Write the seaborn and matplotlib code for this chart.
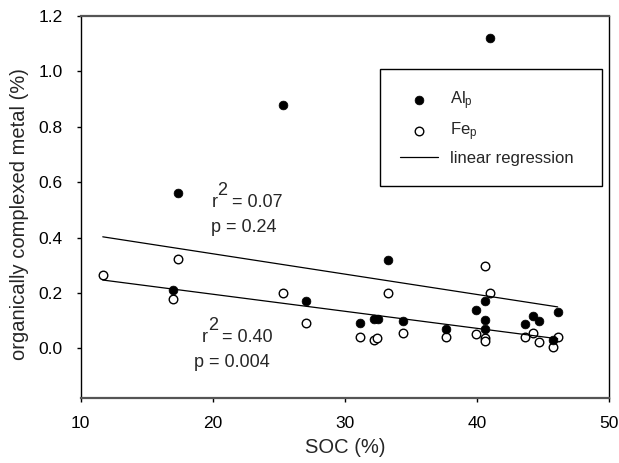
import numpy as np
import pandas as pd
import seaborn as sns
import matplotlib
matplotlib.use('Agg')
import matplotlib.pyplot as plt

# Values
soc_al = [40.98, 25.29, 17.39, 17.01, 27.02, 33.29, 31.14, 32.23, 32.48, 34.42,
          37.63, 39.92, 40.60, 40.60, 40.60, 43.63, 44.26, 44.72, 45.78, 46.11]
al_p = [1.121, 0.877, 0.560, 0.210, 0.172, 0.319, 0.093, 0.106, 0.106, 0.100,
        0.070, 0.138, 0.172, 0.102, 0.070, 0.087, 0.117, 0.100, 0.032, 0.130]

soc_fe = [11.67, 17.39, 17.01, 25.29, 27.02, 33.29, 31.14, 32.23, 32.46, 34.42,
          37.63, 39.92, 40.60, 40.60, 40.60, 40.98, 43.63, 44.26, 44.72, 45.73, 46.11]
fe_p = [0.265, 0.323, 0.178, 0.201, 0.092, 0.201, 0.040, 0.030, 0.038, 0.054,
        0.040, 0.052, 0.297, 0.036, 0.027, 0.201, 0.040, 0.054, 0.024, 0.006, 0.040]

# regression lines (end points)
reg_soc = [11.67, 46.11]
reg_al = [0.403, 0.150]
reg_fe = [0.247, 0.035]

# fit statistics: (r2 text, p text, x, y of r2 baseline, x, y of p baseline)
stats = [("0.07", "0.24", 19.9, 0.509, 19.9, 0.421),
         ("0.40", "0.004", 19.15, 0.024, 18.55, -0.066)]

x_ticks = [10, 20, 30, 40, 50]
y_ticks = [0.0, 0.2, 0.4, 0.6, 0.8, 1.0, 1.2]

sns.set_theme(style='ticks')
plt.rcParams['font.family'] = ['Liberation Sans', 'DejaVu Sans']
plt.rcParams['mathtext.fontset'] = 'custom'
plt.rcParams['mathtext.rm'] = 'Liberation Sans'
plt.rcParams['mathtext.it'] = 'Liberation Sans'

fig = plt.figure(figsize=(6.19, 4.63), dpi=100)
ax = fig.add_axes([0.1304, 0.1397, 0.8535, 0.8257])

sns.scatterplot(x=soc_fe, y=fe_p, ax=ax, marker='o', s=38, facecolor='white',
                edgecolor='black', linewidth=1.0, label=r'Fe$_\mathregular{p}$', zorder=3)
sns.scatterplot(x=soc_al, y=al_p, ax=ax, marker='o', s=40, color='black',
                edgecolor='black', linewidth=0.5, label=r'Al$_\mathregular{p}$', zorder=4)
sns.lineplot(x=reg_soc, y=reg_al, ax=ax, color='black', linewidth=0.9,
             label='linear regression', zorder=5)
sns.lineplot(x=reg_soc, y=reg_fe, ax=ax, color='black', linewidth=0.9, zorder=5)

# r^2 / p annotations; the "2" is full size and raised well above the r
for r2, p, xr, yr, xp, yp in stats:
    ax.text(xr, yr, 'r', fontsize=13, va='baseline')
    ax.annotate('2', xy=(xr, yr), xytext=(4.4, 8.8), textcoords='offset points',
                fontsize=13, va='baseline')
    ax.annotate(f'= {r2}', xy=(xr, yr), xytext=(14.8, 0), textcoords='offset points',
                fontsize=13, va='baseline')
    ax.text(xp, yp, f'p = {p}', fontsize=13, va='baseline')

ax.set_xlim(10, 50)
ax.set_ylim(-0.18, 1.2)
ax.set_xticks(x_ticks)
ax.set_yticks(y_ticks)
ax.set_yticklabels([f'{v:.1f}' for v in y_ticks])
ax.tick_params(direction='out', length=3, width=1, labelsize=12.5, colors='black', pad=10)
ax.set_xlabel('SOC (%)', fontsize=14.5)
ax.set_ylabel('organically complexed metal (%)', fontsize=14.5)
ax.xaxis.set_label_coords(0.5, -0.105)
ax.yaxis.set_label_coords(-0.097, 0.482)

for side in ['left', 'right']:
    ax.spines[side].set_visible(True)
    ax.spines[side].set_color('black')
    ax.spines[side].set_linewidth(1.0)
for side in ['top', 'bottom']:
    ax.spines[side].set_visible(True)
    ax.spines[side].set_color('#555555')
    ax.spines[side].set_linewidth(1.6)

handles, labels = ax.get_legend_handles_labels()
order = [labels.index(r'Al$_\mathregular{p}$'), labels.index(r'Fe$_\mathregular{p}$'),
         labels.index('linear regression')]
leg = ax.legend([handles[i] for i in order], [labels[i] for i in order],
                loc='upper left', bbox_to_anchor=(0.5666, 0.555, 0.42, 0.306),
                mode='expand', fontsize=12, frameon=True, fancybox=False,
                edgecolor='black', framealpha=1, borderpad=1.2, labelspacing=0.5,
                handlelength=2.3, handletextpad=0.7, borderaxespad=0)
leg.get_frame().set_linewidth(1.0)

fig.savefig('out.png', dpi=100)
